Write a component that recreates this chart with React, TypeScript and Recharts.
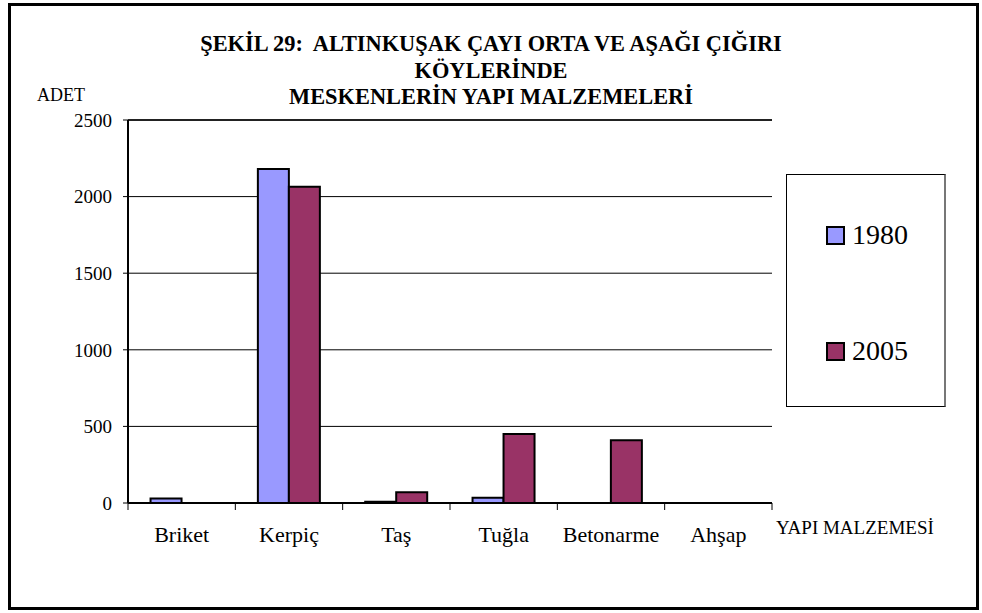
import { Bar, BarChart, CartesianGrid, ReferenceLine, XAxis, YAxis } from 'recharts'

const materials = ['Briket', 'Kerpiç', 'Taş', 'Tuğla', 'Betonarme', 'Ahşap']
const adet1980 = [30, 2180, 8, 35, 0, 0]
const adet2005 = [0, 2065, 70, 450, 410, 0]
const yTicks = [0, 500, 1000, 1500, 2000, 2500]
const titleLines = [
  'ŞEKİL 29:  ALTINKUŞAK ÇAYI ORTA VE AŞAĞI ÇIĞIRI',
  'KÖYLERİNDE',
  'MESKENLERİN YAPI MALZEMELERİ',
]
const legendItems = [
  { label: '1980', color: '#9999ff' },
  { label: '2005', color: '#993366' },
]

const data = materials.map((m, i) => ({ name: m, y1980: adet1980[i], y2005: adet2005[i] }))

const FONT = '"Liberation Serif", "Times New Roman", serif'
const W = 982
const H = 613
const PLOT = { left: 128, top: 120, right: 772, bottom: 503 }
const band = (PLOT.right - PLOT.left) / materials.length

function CatTick(props: any) {
  const { x, y, payload, index } = props
  const last = index === materials.length - 1
  return (
    <g>
      <line x1={x - band / 2} x2={x - band / 2} y1={y} y2={y + 7} stroke="#000" />
      {last && <line x1={x + band / 2} x2={x + band / 2} y1={y} y2={y + 7} stroke="#000" />}
      <text x={x} y={y + 39} textAnchor="middle" fontFamily={FONT} fontSize={22} fill="#000">
        {payload.value}
      </text>
    </g>
  )
}

function LegendBox() {
  return (
    <div style={{ position: 'absolute', left: 786, top: 174, width: 160, height: 233, border: '1px solid #000', borderRightColor: '#777', borderRightWidth: 2, boxSizing: 'border-box', fontFamily: FONT, background: '#fff' }}>
      {legendItems.map((it, i) => (
        <div key={it.label} style={{ position: 'absolute', left: 39, top: 42 + i * 116, display: 'flex', alignItems: 'center', fontSize: 28, lineHeight: '36px', color: '#000' }}>
          <span style={{ width: 15, height: 15, background: it.color, border: '2px solid #000', marginRight: 7, display: 'inline-block' }} />
          {it.label}
        </div>
      ))}
    </div>
  )
}

export default function App() {
  return (
    <div style={{ position: 'absolute', left: 0, top: 0, width: W, height: H, background: '#fff' }}>
      <BarChart
        width={W}
        height={H}
        data={data}
        margin={{ top: PLOT.top, right: W - PLOT.right, bottom: H - PLOT.bottom - 40, left: PLOT.left - 60 }}
        barCategoryGap="21%"
        barGap={0}
      >
        <CartesianGrid yAxisId="left" vertical={false} stroke="#000" strokeWidth={1} />
        <XAxis
          dataKey="name"
          height={40}
          tickLine={false}
          tickSize={0}
          tickMargin={0}
          axisLine={{ stroke: '#000', strokeWidth: 2 }}
          tick={<CatTick />}
          interval={0}
        />
        <YAxis
          yAxisId="left"
          width={60}
          domain={[0, 2500]}
          ticks={yTicks}
          tickSize={5}
          tickMargin={11}
          axisLine={{ stroke: '#000', strokeWidth: 2 }}
          tickLine={{ stroke: '#000' }}
          tick={{ fontFamily: FONT, fontSize: 19, fill: '#000' }}
        />
        <YAxis yAxisId="right" orientation="right" width={0} tick={false} tickLine={false} axisLine={{ stroke: '#222', strokeWidth: 2 }} domain={[0, 2500]} />
        <ReferenceLine yAxisId="left" y={2500} stroke="#222" strokeWidth={2} />
        <Bar yAxisId="left" dataKey="y1980" name="1980" fill="#9999ff" stroke="#000" strokeWidth={2} isAnimationActive={false} />
        <Bar yAxisId="left" dataKey="y2005" name="2005" fill="#993366" stroke="#000" strokeWidth={2} isAnimationActive={false} />
      </BarChart>
      <LegendBox />
      <svg width={W} height={H} style={{ position: 'absolute', left: 0, top: 0, pointerEvents: 'none' }}>
        <rect x={9.5} y={4.5} width={968} height={604} fill="none" stroke="#000" strokeWidth={3} />
        {titleLines.map((t, i) => (
          <text key={i} x={491} y={51 + i * 26.5} textAnchor="middle" fontFamily={FONT} fontWeight="bold" fontSize={22.4} fill="#000" style={{ whiteSpace: 'pre' }}>
            {t}
          </text>
        ))}
        <text x={37} y={101} fontFamily={FONT} fontSize={18} fill="#000">ADET</text>
        <text x={776} y={534} fontFamily={FONT} fontSize={19} fill="#000">YAPI MALZEMESİ</text>
      </svg>
    </div>
  )
}
